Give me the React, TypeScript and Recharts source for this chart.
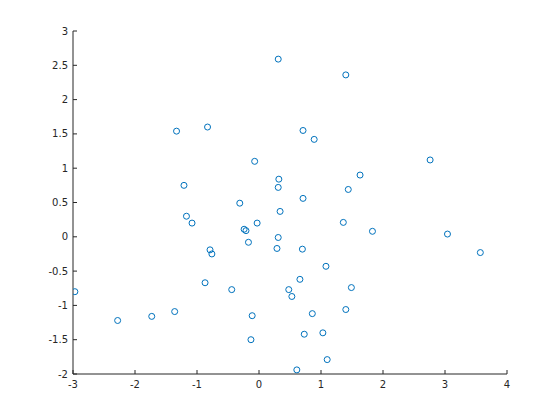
import { ScatterChart, Scatter, XAxis, YAxis } from 'recharts'

const xs = [
  0.31, 1.40, -1.33, -0.83, 0.71, 0.89, -0.07, 2.76, 0.32, 0.31,
  -1.21, 1.63, 1.44, 0.71, -0.31, 0.34, -1.17, -1.08, -0.03, 1.36,
  -0.24, -0.21, 1.83, 3.04, 0.31, -0.17, 0.29, 0.70, -0.79, -0.76,
  3.57, 1.08, -0.87, 0.66, -0.44, 0.48, 0.53, 1.49, -2.97, -1.36,
  -1.73, -2.28, -0.11, 0.86, 1.40, 0.73, 1.03, -0.13, 1.10, 0.61,
]
const ys = [
  2.59, 2.36, 1.54, 1.60, 1.55, 1.42, 1.10, 1.12, 0.84, 0.72,
  0.75, 0.90, 0.69, 0.56, 0.49, 0.37, 0.30, 0.20, 0.20, 0.21,
  0.11, 0.09, 0.08, 0.04, -0.01, -0.08, -0.17, -0.18, -0.19, -0.25,
  -0.23, -0.43, -0.67, -0.62, -0.77, -0.77, -0.87, -0.74, -0.80, -1.09,
  -1.16, -1.22, -1.15, -1.12, -1.06, -1.42, -1.40, -1.50, -1.79, -1.94,
]
const xTicks = [-3, -2, -1, 0, 1, 2, 3, 4]
const yTicks = [-2, -1.5, -1, -0.5, 0, 0.5, 1, 1.5, 2, 2.5, 3]

const points = xs.map((x, i) => ({ x, y: ys[i] }))

const axisColor = '#262626'
const tickStyle = { fontSize: 10, fill: axisColor, fontFamily: 'DejaVu Sans' }

const Ring = (props: any) => (
  <circle cx={props.cx} cy={props.cy} r={3} fill="none" stroke="#0072BD" strokeWidth={1} />
)

export default function App() {
  return (
    <div style={{ position: 'absolute', left: 0, top: 0, width: 560, height: 420, background: '#fff' }}>
      <ScatterChart width={560} height={420} margin={{ top: 31, right: 53, bottom: 16, left: 33 }}>
        <XAxis
          type="number"
          dataKey="x"
          domain={[-3, 4]}
          ticks={xTicks}
          allowDataOverflow
          height={30}
          tickSize={-4}
          tickMargin={11}
          stroke={axisColor}
          tick={tickStyle}
        />
        <YAxis
          type="number"
          dataKey="y"
          domain={[-2, 3]}
          ticks={yTicks}
          allowDataOverflow
          width={40}
          tickSize={-4}
          tickMargin={9}
          stroke={axisColor}
          tick={tickStyle}
        />
        <Scatter data={points} shape={Ring} isAnimationActive={false} />
      </ScatterChart>
    </div>
  )
}
